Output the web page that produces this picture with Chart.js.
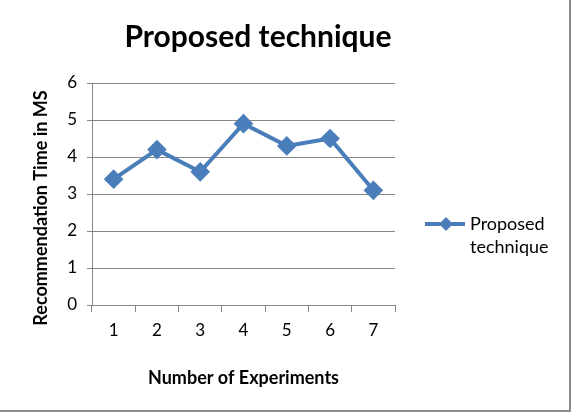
<!DOCTYPE html>
<html>
<head>
<meta charset="utf-8">
<script src="https://cdn.jsdelivr.net/npm/chart.js@4"></script>
<style>
  body { margin: 0; background: #fff; }
  #wrap { position: relative; width: 577px; height: 418px; }
</style>
</head>
<body>
<div id="wrap"><canvas id="chart" width="577" height="418"></canvas></div>
<script>
const chartTitle = "Proposed technique";
const experiments = ["1", "2", "3", "4", "5", "6", "7"];
const recommendationTime = [3.4, 4.2, 3.6, 4.9, 4.3, 4.5, 3.1];
const seriesName = "Proposed technique";
const xTitle = "Number of Experiments";
const yTitle = "Recommendation Time in MS";

const FONT = "Lato, 'Open Sans', sans-serif";
const BLUE = "#4a7ebb";
const GRAY = "#868686";

// title, y title, legend and outer frame drawn by hand
const extras = {
  id: "extras",
  afterDraw(chart) {
    const ctx = chart.ctx;
    ctx.save();
    // frame
    ctx.strokeStyle = "#8c8c8c";
    ctx.lineWidth = 2;
    ctx.beginPath();
    ctx.moveTo(0, 411);
    ctx.lineTo(570, 411);
    ctx.lineTo(570, 0);
    ctx.stroke();

    // title
    ctx.fillStyle = "#000";
    ctx.font = "bold 30px " + FONT;
    ctx.textAlign = "center";
    ctx.textBaseline = "alphabetic";
    ctx.fillText(chartTitle, 258, 47);

    // y axis title (sits a bit below the plot centre, like the original)
    ctx.save();
    ctx.translate(41, 208);
    ctx.rotate(-Math.PI / 2);
    ctx.font = "bold 18px " + FONT;
    ctx.textBaseline = "middle";
    ctx.fillText(yTitle, 0, 0);
    ctx.restore();

    // legend
    const ly = 224;
    ctx.strokeStyle = BLUE;
    ctx.lineWidth = 4;
    ctx.beginPath();
    ctx.moveTo(425, ly);
    ctx.lineTo(465, ly);
    ctx.stroke();
    ctx.fillStyle = BLUE;
    ctx.beginPath();
    ctx.moveTo(446, ly - 7);
    ctx.lineTo(453, ly);
    ctx.lineTo(446, ly + 7);
    ctx.lineTo(439, ly);
    ctx.closePath();
    ctx.fill();
    ctx.fillStyle = "#000";
    ctx.font = "18px " + FONT;
    ctx.textAlign = "left";
    ctx.textBaseline = "middle";
    const words = seriesName.split(" ");
    ctx.fillText(words[0], 470, ly);
    ctx.fillText(words[1], 470, ly + 23);
    ctx.restore();
  }
};

new Chart(document.getElementById("chart"), {
  type: "line",
  data: {
    labels: experiments,
    datasets: [{
      label: seriesName,
      data: recommendationTime,
      borderColor: BLUE,
      backgroundColor: BLUE,
      borderWidth: 4,
      pointStyle: "rectRot",
      pointRadius: 7,
      pointHoverRadius: 7,
      pointBackgroundColor: BLUE,
      pointBorderColor: BLUE,
      tension: 0
    }]
  },
  options: {
    responsive: false,
    animation: false,
    layout: { padding: { top: 83, right: 182, left: 0, bottom: 0 } },
    plugins: {
      legend: { display: false },
      title: { display: false },
      tooltip: { enabled: false }
    },
    scales: {
      x: {
        offset: true,
        grid: { display: true, drawOnChartArea: false, drawTicks: true, tickLength: 7, color: GRAY, offset: true },
        border: { display: true, color: GRAY, width: 1 },
        ticks: { color: "#000", font: { family: FONT, size: 17 }, padding: 8, maxRotation: 0 },
        title: { display: true, text: xTitle, color: "#000", font: { family: FONT, size: 18, weight: "bold" }, padding: { top: 20, bottom: 29 } },
        afterFit(s) { s.height = 113; }
      },
      y: {
        min: 0,
        max: 6,
        ticks: { stepSize: 1, color: "#000", font: { family: FONT, size: 17 }, padding: 10 },
        grid: { color: GRAY, lineWidth: 1, tickLength: 5 },
        border: { display: true, color: GRAY, width: 1 },
        title: { display: false },
        afterFit(s) { s.width = 92; }
      }
    }
  },
  plugins: [extras]
});
</script>
</body>
</html>
